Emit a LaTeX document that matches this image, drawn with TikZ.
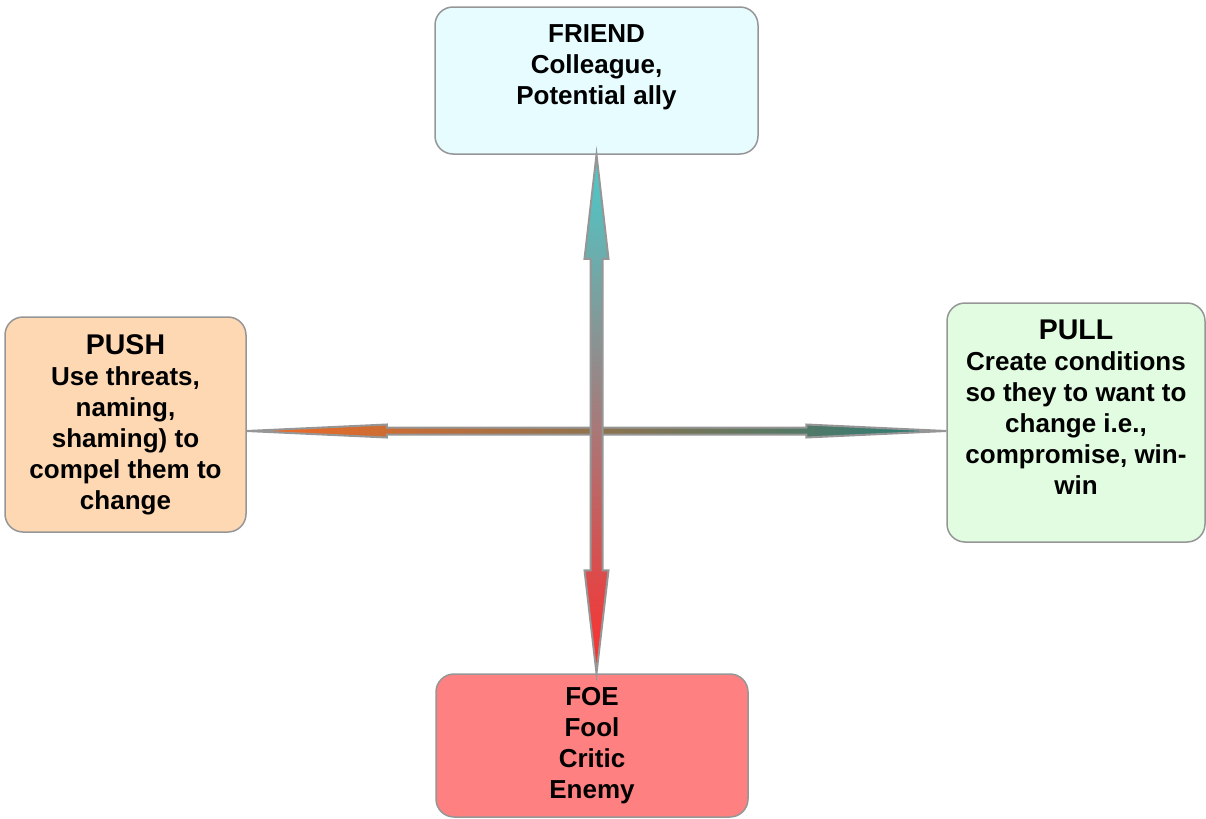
\documentclass[tikz,border=0pt]{standalone}
\usepackage{fontspec}
\setmainfont{Liberation Sans}
\usepackage{tikz}
\usetikzlibrary{positioning, calc}
\definecolor{edge}{RGB}{150,150,150}
\definecolor{friendfill}{RGB}{230,252,255}
\definecolor{pushfill}{RGB}{253,216,179}
\definecolor{pullfill}{RGB}{225,252,225}
\definecolor{foefill}{RGB}{255,128,128}
\definecolor{cyanend}{RGB}{72,204,204}
\definecolor{greymid}{RGB}{196,150,156}
\definecolor{redend}{RGB}{255,45,45}
\definecolor{orangeend}{RGB}{245,105,35}
\definecolor{tealend}{RGB}{40,125,120}
\newcommand{\headline}[1]{{\fontsize{14.25}{17}\selectfont #1}}

\begin{document}
\begin{tikzpicture}[
  x=0.5pt, y=-0.5pt,
  card/.style={draw=edge, line width=0.75pt, rounded corners=9pt, inner sep=0pt,
               align=center, font=\fontsize{13}{15.5}\selectfont\bfseries},
  vaxis/.style={draw=edge, line width=1pt, top color=cyanend, middle color=greymid,
                bottom color=redend},
  haxis/.style={draw=edge, line width=1pt, left color=orangeend, right color=tealend}]

  \useasboundingbox (0,0) rectangle (1206,819);

  % --- the four stances
  \node[card, fill=friendfill, minimum width=161.5pt, minimum height=73.5pt]
    (friend) at (596.5, 80.5) {FRIEND\\Colleague,\\Potential ally\\~};
  \node[card, fill=pushfill, minimum width=120.5pt, minimum height=107.5pt]
    (push) at (125.5, 424.5)
    {\headline{PUSH}\\Use threats,\\naming,\\shaming) to\\compel them to\\change};
  \node[card, fill=pullfill, minimum width=129pt, minimum height=119.5pt]
    (pull) at (1076, 422.5)
    {\headline{PULL}\\Create conditions\\so they to want to\\change i.e.,\\compromise, win-\\win\\~};
  \node[card, fill=foefill, minimum width=156pt, minimum height=71.5pt]
    (foe) at (592, 745.5) {FOE\\Fool\\Critic\\Enemy};

  % --- the two axes, drawn as block arrows between the cards
  \coordinate (mid) at (597, 431);
  \coordinate (hl) at (push.east |- mid);
  \coordinate (hr) at (pull.west |- mid);
  \coordinate (vt) at (friend.south);
  \coordinate (vb) at (friend.south |- foe.north);

  \shadedraw[haxis] (hl) -- ++(140,-6.5) -- ++(0,3) -- ($(hr)+(-140,-3.5)$)
    -- ++(0,-3) -- (hr) -- ++(-140,6.5) -- ++(0,-3) -- ($(hl)+(140,3.5)$)
    -- ++(0,3) -- cycle;
  \shadedraw[vaxis] (vt) -- ++(12,104) -- ++(-6,0) -- ($(vb)+(6,-103)$)
    -- ++(6,0) -- (vb) -- ++(-12,-103) -- ++(6,0) -- ($(vt)+(-6,104)$)
    -- ++(-6,0) -- cycle;
\end{tikzpicture}
\end{document}
